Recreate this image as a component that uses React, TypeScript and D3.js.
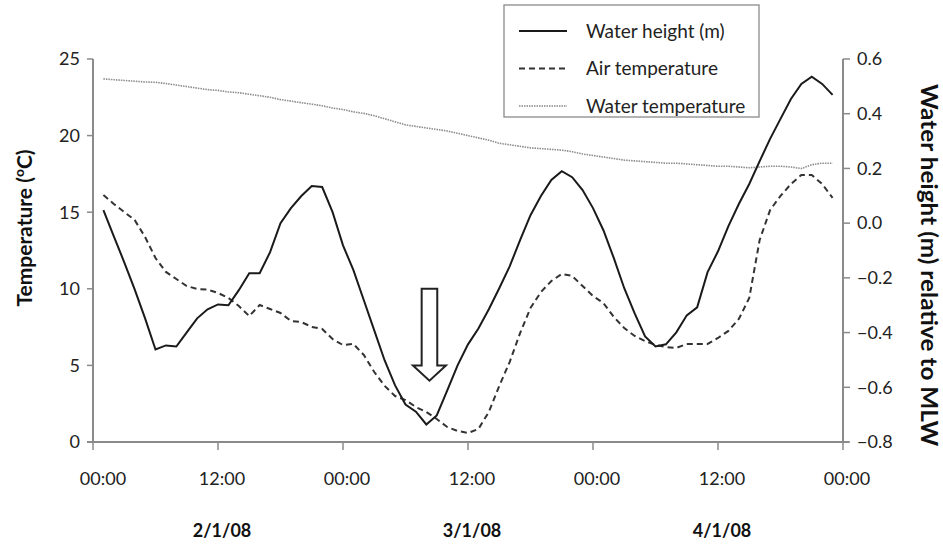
import * as d3 from "d3";

// hours since 00:00 on 2/1/08, one reading per hour
const hours = [
  1, 2, 3, 4, 5, 6, 7, 8, 9, 10, 11, 12, 13, 14, 15, 16, 17, 18, 19, 20, 21, 22, 23, 24,
  25, 26, 27, 28, 29, 30, 31, 32, 33, 34, 35, 36, 37, 38, 39, 40, 41, 42, 43, 44, 45, 46, 47, 48,
  49, 50, 51, 52, 53, 54, 55, 56, 57, 58, 59, 60, 61, 62, 63, 64, 65, 66, 67, 68, 69, 70, 71,
];

// water height (m) relative to MLW, right axis
const waterHeight = [
  0.048, -0.048, -0.143, -0.242, -0.348, -0.462, -0.447, -0.451, -0.399, -0.348, -0.315, -0.297,
  -0.3, -0.245, -0.183, -0.183, -0.106, 0.0, 0.055, 0.099, 0.136, 0.132, 0.04, -0.081,
  -0.172, -0.282, -0.392, -0.502, -0.593, -0.663, -0.689, -0.736, -0.703, -0.612, -0.52, -0.443,
  -0.385, -0.315, -0.238, -0.158, -0.062, 0.029, 0.099, 0.158, 0.19, 0.168, 0.121, 0.055,
  -0.026, -0.128, -0.238, -0.33, -0.414, -0.451, -0.443, -0.399, -0.337, -0.308, -0.179, -0.103,
  -0.011, 0.07, 0.143, 0.227, 0.308, 0.381, 0.454, 0.509, 0.535, 0.509, 0.469,
];

// air temperature (degC), left axis
const airTemp = [
  16.12, 15.54, 15.01, 14.49, 13.38, 12.01, 11.1, 10.64, 10.18, 9.99, 9.95, 9.73,
  9.4, 8.88, 8.22, 8.94, 8.68, 8.42, 7.9, 7.83, 7.51, 7.38, 6.72, 6.33,
  6.4, 5.68, 4.57, 3.66, 3.0, 2.74, 2.28, 1.96, 1.5, 0.98, 0.72, 0.59,
  0.85, 1.96, 3.66, 5.22, 7.11, 8.75, 9.79, 10.51, 10.97, 10.84, 10.18, 9.53,
  9.07, 8.16, 7.44, 6.92, 6.59, 6.33, 6.2, 6.14, 6.4, 6.4, 6.4, 6.79,
  7.25, 8.03, 9.4, 13.19, 15.14, 16.06, 16.84, 17.43, 17.43, 16.84, 15.93,
];

// water temperature (degC), left axis
const waterTemp = [
  23.7, 23.65, 23.6, 23.55, 23.5, 23.48, 23.4, 23.3, 23.2, 23.1, 23.0, 22.95,
  22.85, 22.8, 22.7, 22.6, 22.5, 22.35, 22.25, 22.15, 22.05, 21.95, 21.8, 21.7,
  21.55, 21.45, 21.3, 21.1, 20.9, 20.7, 20.6, 20.5, 20.4, 20.3, 20.15, 20.0,
  19.85, 19.7, 19.5, 19.4, 19.3, 19.2, 19.15, 19.1, 19.05, 18.95, 18.8, 18.7,
  18.6, 18.5, 18.4, 18.35, 18.3, 18.25, 18.2, 18.2, 18.15, 18.1, 18.05, 18.0,
  18.0, 17.95, 17.9, 17.95, 18.0, 18.0, 17.95, 17.85, 18.1, 18.2, 18.2,
];

const tempTicks = [0, 5, 10, 15, 20, 25];
const heightTicks = [-0.8, -0.6, -0.4, -0.2, 0.0, 0.2, 0.4, 0.6];
const timeTicks = [0, 12, 24, 36, 48, 60, 72];
const timeLabels = ["00:00", "12:00", "00:00", "12:00", "00:00", "12:00", "00:00"];
const dateHours = [12, 36, 60];
const dateLabels = ["2/1/08", "3/1/08", "4/1/08"];

const legendItems = [
  { label: "Water height (m)", dash: null, color: "#1a1a1a", width: 2 },
  { label: "Air temperature", dash: "6,4", color: "#333", width: 2 },
  { label: "Water temperature", dash: "1.5,1", color: "#888", width: 1.6 },
];

// hollow arrow pointing at the low tide (hour, temperature values)
const arrowHour = 32.3;
const arrowTop = 10;
const arrowNeck = 5;
const arrowTip = 4;

const width = 943;
const height = 555;
const left = 93;
const right = 843;
const top = 59;
const bottom = 442;
const font = "Lato, 'Open Sans', sans-serif";
const axisColor = "#8a8a8a";

export default function App() {
  const x = d3.scaleLinear([0, 72], [left, right]);
  const yT = d3.scaleLinear([0, 25], [bottom, top]);
  const yH = d3.scaleLinear([-0.8, 0.6], [bottom, top]);

  const heightLine = d3.line<number>((d, i) => x(hours[i]), (d) => yH(d));
  const tempLine = d3.line<number>((d, i) => x(hours[i]), (d) => yT(d));

  const ax = x(arrowHour);
  const stem = 7.8;
  const head = 16.5;
  const arrowPath = [
    [ax - stem, yT(arrowTop)],
    [ax + stem, yT(arrowTop)],
    [ax + stem, yT(arrowNeck)],
    [ax + head, yT(arrowNeck)],
    [ax, yT(arrowTip)],
    [ax - head, yT(arrowNeck)],
    [ax - stem, yT(arrowNeck)],
  ];

  return (
    <svg
      width={width}
      height={height}
      style={{ position: "absolute", left: 0, top: 0, background: "#fff" }}
      fontFamily={font}
    >
      <rect width={width} height={height} fill="#fff" />

      {/* series */}
      <path d={tempLine(waterTemp) ?? ""} fill="none" stroke="#8c8c8c" strokeWidth={1.6} strokeDasharray="1.5,1" />
      <path d={tempLine(airTemp) ?? ""} fill="none" stroke="#333" strokeWidth={2} strokeDasharray="6,4" />
      <path d={heightLine(waterHeight) ?? ""} fill="none" stroke="#1a1a1a" strokeWidth={2} />

      {/* arrow */}
      <polygon
        points={arrowPath.map((p) => p.join(",")).join(" ")}
        fill="#fff"
        stroke="#222"
        strokeWidth={2}
      />

      {/* left axis */}
      <line x1={left} x2={left} y1={top} y2={bottom} stroke={axisColor} strokeWidth={2} />
      {tempTicks.map((t) => (
        <g key={t}>
          <line x1={left - 6} x2={left} y1={yT(t)} y2={yT(t)} stroke={axisColor} strokeWidth={1.5} />
          <text x={80} y={yT(t)} dy="0.35em" textAnchor="end" fontSize={18} fill="#222">
            {t}
          </text>
        </g>
      ))}

      {/* right axis */}
      <line x1={right} x2={right} y1={top} y2={bottom} stroke={axisColor} strokeWidth={2} />
      {heightTicks.map((t) => (
        <g key={t}>
          <line x1={right} x2={right + 7} y1={yH(t)} y2={yH(t)} stroke={axisColor} strokeWidth={1.5} />
          <text x={857} y={yH(t)} dy="0.35em" textAnchor="start" fontSize={18} fill="#222">
            {d3.format(".1f")(t)}
          </text>
        </g>
      ))}

      {/* bottom axis */}
      <line x1={left - 6} x2={right + 6} y1={bottom} y2={bottom} stroke={axisColor} strokeWidth={2} />
      {timeTicks.map((h, i) => (
        <g key={h}>
          <line x1={x(h)} x2={x(h)} y1={bottom} y2={bottom + 8} stroke={axisColor} strokeWidth={1.5} />
          <text x={x(h) + (i === 0 ? 10 : 4)} y={479} dy="0.35em" textAnchor="middle" fontSize={18} fill="#222">
            {timeLabels[i]}
          </text>
        </g>
      ))}
      {dateHours.map((h, i) => (
        <text key={h} x={x(h) + 4} y={531} dy="0.35em" textAnchor="middle" fontSize={18} fontWeight="bold" fill="#111">
          {dateLabels[i]}
        </text>
      ))}

      {/* axis titles */}
      <text
        transform={`translate(32,228) rotate(-90)`}
        textAnchor="middle"
        fontSize={21}
        fontWeight="bold"
        fill="#111"
      >
        Temperature (
        <tspan fontSize={14} dy={-8}>
          o
        </tspan>
        <tspan dy={8}>C)</tspan>
      </text>
      <text
        transform={`translate(921,265) rotate(90)`}
        textAnchor="middle"
        fontSize={22}
        fontWeight="bold"
        fill="#111"
        textLength={362}
        lengthAdjust="spacingAndGlyphs"
      >
        Water height (m) relative to MLW
      </text>

      {/* legend */}
      <rect x={504} y={5} width={255} height={112} fill="#fff" stroke="#8a8a8a" strokeWidth={1.3} />
      {legendItems.map((d, i) => {
        const ly = 31 + i * 37.5;
        return (
          <g key={d.label}>
            <line
              x1={519}
              x2={567}
              y1={ly}
              y2={ly}
              stroke={d.color}
              strokeWidth={d.width}
              strokeDasharray={d.dash ?? undefined}
            />
            <text x={586} y={ly} dy="0.35em" fontSize={19} fill="#222">
              {d.label}
            </text>
          </g>
        );
      })}
    </svg>
  );
}
